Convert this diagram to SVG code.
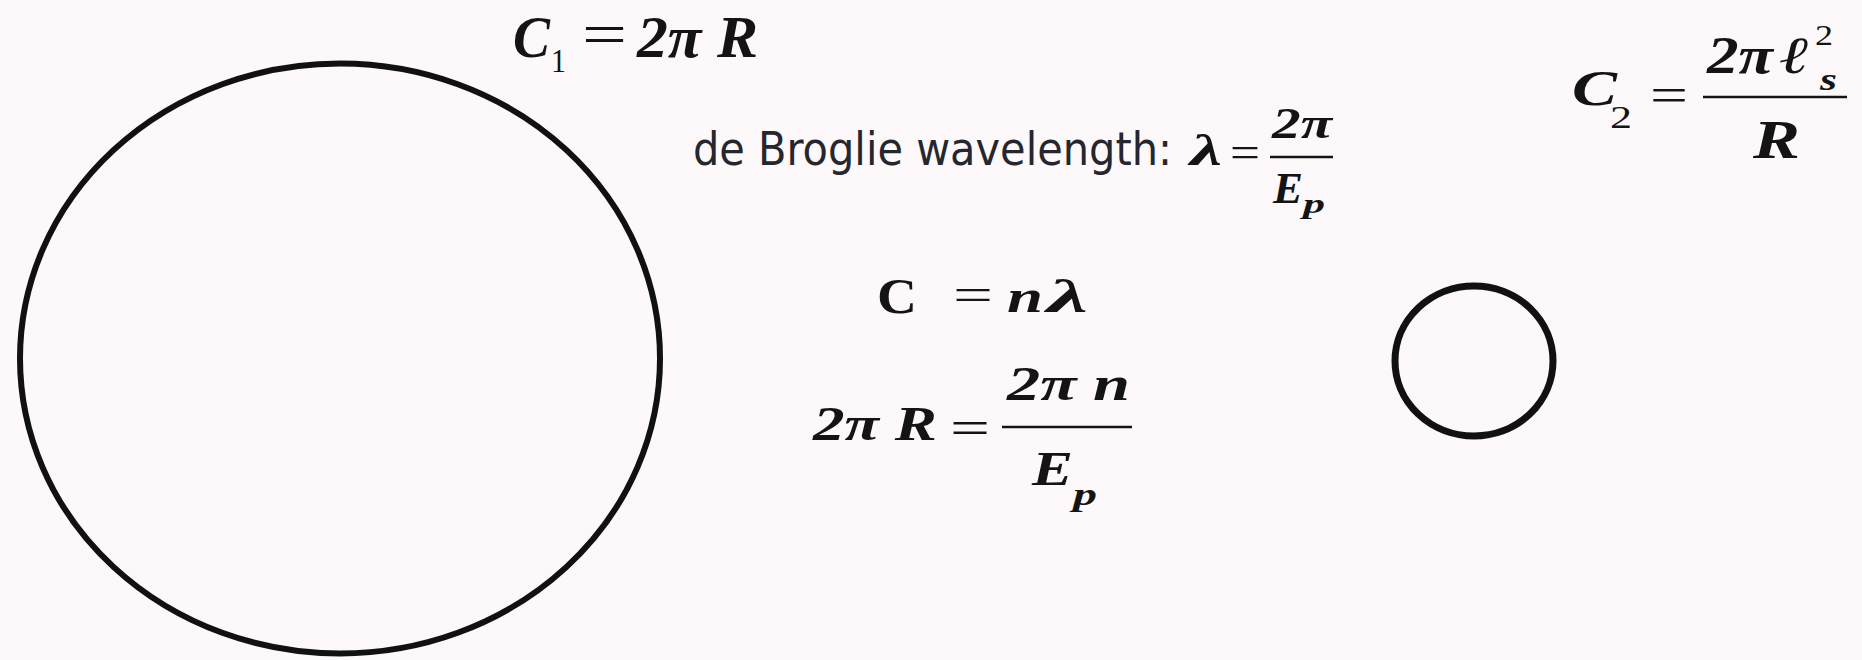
<svg xmlns="http://www.w3.org/2000/svg" width="1862" height="660" viewBox="0 0 1862 660">
<style>
.m{font-family:"Liberation Serif","Times New Roman",serif;font-weight:bold;font-style:italic;fill:#141414}
.u{font-family:"Liberation Serif","Times New Roman",serif;font-weight:normal;font-style:normal;fill:#141414}
.ub{font-family:"Liberation Serif","Times New Roman",serif;font-weight:bold;font-style:normal;fill:#141414}
.t{font-family:"DejaVu Sans","Liberation Sans",sans-serif;font-stretch:condensed;fill:#26262e}
.ring{fill:none;stroke:#111}
.bar{stroke:#141414;stroke-width:2.5}
</style>
<rect width="1862" height="660" fill="#fdf9fb"/>
<g id="big-circle"><ellipse class="ring" cx="340" cy="358.5" rx="320" ry="295" stroke-width="6"/></g>
<g id="small-circle"><ellipse class="ring" cx="1474" cy="361" rx="79" ry="75" stroke-width="7"/></g>
<g id="eq-c1">
<text class="m" x="513" y="57" font-size="60" textLength="37" lengthAdjust="spacingAndGlyphs">C</text>
<text class="u" x="551" y="72" font-size="34" textLength="15" lengthAdjust="spacingAndGlyphs">1</text>
<text class="u" x="582" y="54" font-size="60" textLength="45" lengthAdjust="spacingAndGlyphs">=</text>
<text class="m" x="637" y="57" font-size="60" textLength="121" lengthAdjust="spacingAndGlyphs">2π R</text>
</g>
<g id="eq-debroglie">
<text class="t" x="693" y="165" font-size="46" textLength="479" lengthAdjust="spacingAndGlyphs">de Broglie wavelength:</text>
<text class="m" x="1190" y="165" font-size="44" textLength="32" lengthAdjust="spacingAndGlyphs">λ</text>
<text class="u" x="1230" y="167" font-size="44" textLength="30" lengthAdjust="spacingAndGlyphs">=</text>
<line class="bar" x1="1270" y1="157" x2="1333" y2="157"/>
<text class="m" x="1272" y="138" font-size="44" textLength="60" lengthAdjust="spacingAndGlyphs">2π</text>
<text class="m" x="1273" y="203" font-size="44" textLength="30" lengthAdjust="spacingAndGlyphs">E</text>
<text class="m" x="1303" y="213" font-size="28" textLength="22" lengthAdjust="spacingAndGlyphs">p</text>
</g>
<g id="eq-c2">
<text class="m" x="1572" y="105" font-size="50" textLength="45" lengthAdjust="spacingAndGlyphs">C</text>
<text class="u" x="1610" y="128" font-size="32" textLength="22" lengthAdjust="spacingAndGlyphs">2</text>
<text class="u" x="1650" y="112" font-size="50" textLength="38" lengthAdjust="spacingAndGlyphs">=</text>
<line class="bar" x1="1703" y1="97" x2="1847" y2="97"/>
<text class="m" x="1707" y="73" font-size="52" textLength="66" lengthAdjust="spacingAndGlyphs">2π</text>
<text class="m" x="1780" y="73" font-size="52" textLength="30" lengthAdjust="spacingAndGlyphs">ℓ</text>
<text class="u" x="1815" y="45" font-size="30" textLength="18" lengthAdjust="spacingAndGlyphs">2</text>
<text class="m" x="1820" y="90" font-size="32" textLength="17" lengthAdjust="spacingAndGlyphs">s</text>
<text class="m" x="1753" y="158" font-size="54" textLength="47" lengthAdjust="spacingAndGlyphs">R</text>
</g>
<g id="eq-c-nlambda">
<text class="ub" x="877" y="313" font-size="50" textLength="40" lengthAdjust="spacingAndGlyphs">C</text>
<text class="u" x="953" y="310" font-size="46" textLength="40" lengthAdjust="spacingAndGlyphs">=</text>
<text class="m" x="1007" y="312" font-size="46" textLength="36" lengthAdjust="spacingAndGlyphs">n</text>
<text class="m" x="1047" y="312" font-size="46" textLength="41" lengthAdjust="spacingAndGlyphs">λ</text>
</g>
<g id="eq-2piR">
<text class="m" x="813" y="440" font-size="48" textLength="124" lengthAdjust="spacingAndGlyphs">2π R</text>
<text class="u" x="950" y="444" font-size="48" textLength="40" lengthAdjust="spacingAndGlyphs">=</text>
<line class="bar" x1="1002" y1="427" x2="1132" y2="427"/>
<text class="m" x="1007" y="400" font-size="48" textLength="123" lengthAdjust="spacingAndGlyphs">2π n</text>
<text class="m" x="1032" y="485" font-size="48" textLength="41" lengthAdjust="spacingAndGlyphs">E</text>
<text class="m" x="1073" y="505" font-size="32" textLength="24" lengthAdjust="spacingAndGlyphs">p</text>
</g>
<g id="connectors"/>
</svg>
